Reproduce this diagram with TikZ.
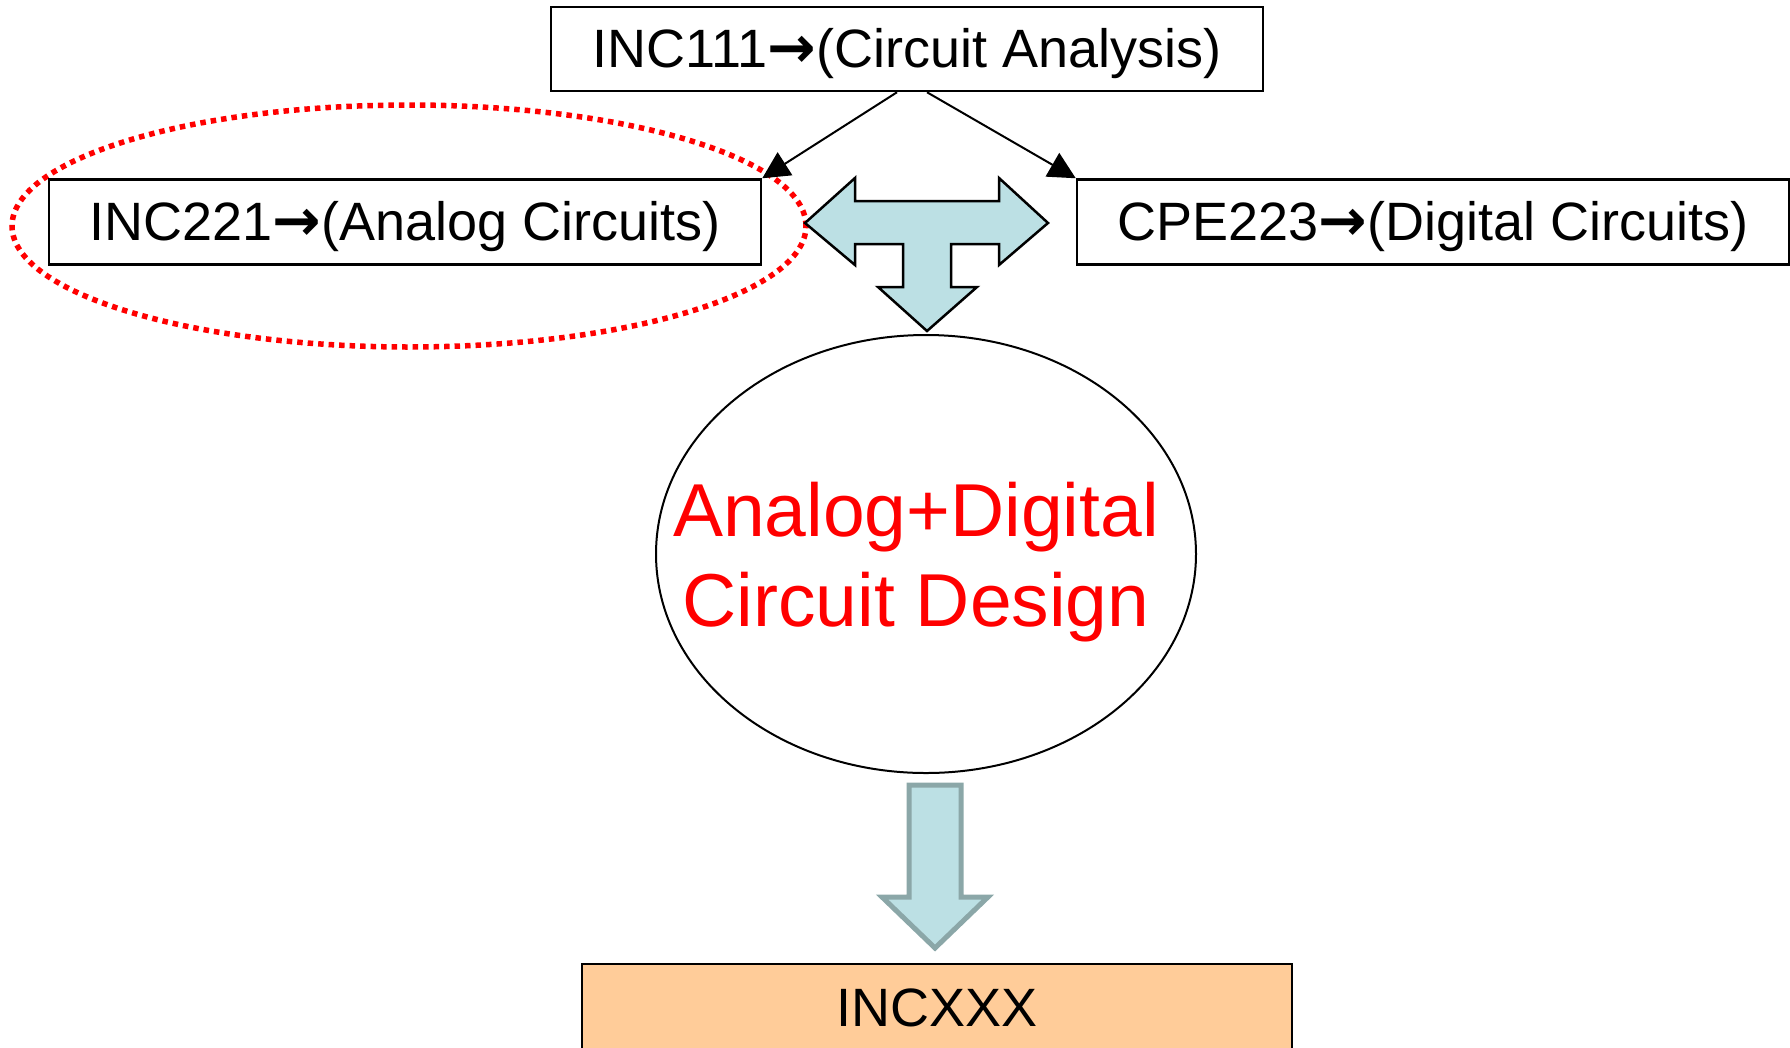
\documentclass[tikz,border=0pt]{standalone}
\usepackage{fontspec}
\setmainfont{Liberation Sans}
\newfontfamily\arrowfont{DejaVu Sans Bold}
\usetikzlibrary{shapes.geometric,arrows.meta}
\definecolor{lightteal}{HTML}{BCE0E4}
\definecolor{tealedge}{HTML}{8BA7A8}
\definecolor{peach}{HTML}{FFCC99}
\newcommand{\rarr}{{\arrowfont\fontsize{58}{60}\selectfont →}}
\tikzset{
  coursebox/.style={draw=black, line width=2.5pt, fill=white, rectangle,
    minimum width=712pt, minimum height=85pt, inner sep=0pt,
    text height=39pt, text depth=2pt,
    font=\fontsize{54}{60}\selectfont},
  link/.style={draw=black, line width=2pt, -{Triangle[length=27pt,width=27pt]}},
  blockarrow/.style={draw=black, line width=2.5pt, fill=lightteal, line join=miter},
  downblock/.style={draw=tealedge, line width=5pt, fill=lightteal, line join=miter},
}
\begin{document}
\begin{tikzpicture}[x=1pt, y=-1pt]
\useasboundingbox (0,0) rectangle (1790,1047);
% focus ellipse
\node[draw=red, line width=5.5pt, dash pattern=on 5.5pt off 5pt, ellipse,
  minimum width=794pt, minimum height=242pt, inner sep=0pt] (focus) at (409,226) {};
% course boxes
\node[coursebox, minimum height=84pt] (top) at (907,49) {INC111\rarr(Circuit Analysis)};
\node[coursebox] (analog) at (405,222) {INC221\rarr(Analog Circuits)};
\node[coursebox] (digital) at (1433,222) {CPE223\rarr(Digital Circuits)};
\node[coursebox, fill=peach, minimum width=710pt, minimum height=88pt] (future) at (937,1008) {INCXXX};
% connectors
\draw[link] ([xshift=-10pt]top.south) -- (analog.north east);
\draw[link] ([xshift=20pt]top.south) -- (digital.north west);
% T-shaped block arrow
\draw[blockarrow] (805,223) -- (855,178) -- (855,201) -- (999,201) -- (999,178)
  -- (1048,223) -- (999,265) -- (999,244) -- (951,244) -- (951,287) -- (977,287)
  -- (927,331) -- (878,287) -- (903,287) -- (903,244) -- (855,244) -- (855,265) -- cycle;
% design ellipse
\node[draw=black, line width=2pt, ellipse, minimum width=540pt, minimum height=438pt,
  inner sep=0pt] (design) at (926,554) {};
\node[text=red, align=center, font=\fontsize{75}{90}\selectfont] (designtext) at (916,562)
  {Analog+Digital\\Circuit Design};
% down block arrow
\draw[downblock] (909,785) -- (961,785) -- (961,897) -- (988,897) -- (935,948)
  -- (882,897) -- (909,897) -- cycle;
\end{tikzpicture}
\end{document}
